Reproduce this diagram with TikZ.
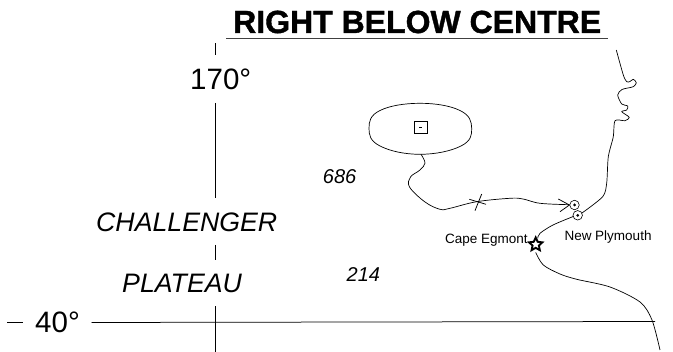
\documentclass[tikz,border=0pt]{standalone}
\usepackage{fontspec}
\setmainfont{Liberation Sans}
\newfontfamily\heavyfont[BoldFeatures={FakeBold=1.2}]{Liberation Sans}
\usetikzlibrary{shapes.geometric}
\tikzset{
 px/.style={x=1pt,y=-1pt},
 ln/.style={line width=0.75pt,black},
 coast/.style={line width=0.7pt,black,line join=round},
 big/.style={font=\fontsize{29.5}{32}\selectfont,inner sep=0pt,anchor=base west},
 region/.style={font=\fontsize{26.7}{30}\selectfont\itshape,inner sep=0pt,anchor=base west},
 depth/.style={font=\fontsize{20}{22}\selectfont\itshape,inner sep=0pt,anchor=base west},
 place/.style={font=\fontsize{13.5}{16}\selectfont,inner sep=0pt,anchor=base west},
 port/.style={circle,draw,line width=0.6pt,minimum size=9.5pt,inner sep=0pt},
 dotc/.style={circle,fill=black,minimum size=3pt,inner sep=0pt},
}
\begin{document}
\begin{tikzpicture}[px]
\useasboundingbox (0,0) rectangle (673,352);
% title
\node[font=\fontsize{32}{34}\selectfont\heavyfont\bfseries,inner sep=0pt,anchor=base west] (title) at (233,33) {RIGHT BELOW CENTRE};
\coordinate (ruleL) at (226,38.5); \coordinate (ruleR) at (608,38.5);
\draw[line width=1pt,black!75] (ruleL) -- (ruleR);
% graticule
\draw[ln] (215.7,43.5) -- (215.7,55);
\draw[ln] (215.7,103) -- (215.7,198);
\draw[ln] (215.7,245) -- (215.7,260);
\draw[ln] (215.7,306.5) -- (215.7,352);
\coordinate (hL) at (91.5,322.5); \coordinate (hR) at (655,321.5);
\draw[ln] (hL) -- (hR);
\coordinate (dL) at (7,322); \coordinate (dR) at (23,322);
\draw[ln] (dL) -- (dR);
\node[big] (d170) at (190,90) {170°};
\node[big] (d40) at (35,333) {40°};
\node[region] (chal) at (96,231.7) {CHALLENGER};
\node[region] (plat) at (122,292.7) {PLATEAU};
\node[depth] (n686) at (322.7,183.3) {686};
\node[depth] (n214) at (346.5,281.7) {214};
\node[place] (cape) at (445,244) {Cape Egmont};
\node[place] (newp) at (564.3,241) {New Plymouth};
% shallow oval
\draw[coast] plot[smooth cycle,tension=.7] coordinates {(369,128.3) (380,110.5) (420,103.3) (460,110.5) (471.7,128.3) (461,146) (420,154.3) (380,146)};
\node[draw,line width=0.6pt,minimum size=12.5pt,inner sep=0pt] (box) at (420.7,127.3) {};
\node[fill=black,minimum width=3.5pt,minimum height=1.5pt,inner sep=0pt] at (box.center) {};
% ports
\node[port] (p1) at (574.5,205) {}; \node[dotc] at (p1.center) {};
\node[port] (p2) at (577.7,215.3) {}; \node[dotc] at (p2.center) {};
% star
\node[star,star points=5,star point ratio=2.1,draw,line width=1.9pt,minimum size=14pt,inner sep=0pt] (st) at (535.7,244.5) {};
% track
\draw[coast] plot[smooth,tension=.6] coordinates {(421,154.3) (425,163) (420,170) (410.5,177) (409.5,187) (425,202) (440,209.3) (450,208.3) (476.7,201.7) (510,198.3) (523,199) (540,203.3) (569,204.7)};
\coordinate (x1) at (481.7,194); \coordinate (x2) at (475,210.7);
\coordinate (x3) at (469.3,199.3); \coordinate (x4) at (486,204.3);
\draw[ln] (x1) -- (x2); \draw[ln] (x3) -- (x4);
\coordinate (a1) at (558.3,199); \coordinate (a2) at (560,211.7);
\draw[ln] (a1) -- (p1.west) -- (a2);
% coast
\draw[coast] plot[smooth,tension=.45] coordinates {(616.3,50) (623.3,75) (626.7,81.7) (630,81.5) (633.3,79.3) (636.3,82.7) (633.3,86.7) (622,89.5) (617.7,95) (621.7,104) (627.7,106) (626.7,110) (621.7,111.7) (629.3,117.3) (625,120.7) (615,120.7) (613.3,136.7) (608.3,156.7) (606.7,183) (602.7,196.7) (582,213)};
\draw[coast] plot[smooth,tension=.5] coordinates {(573.2,216.5) (553,225) (540,233.3) (537.7,238.3)};
\draw[coast] plot[smooth,tension=.5] coordinates {(535.7,252.5) (543.3,265) (560,274) (576.7,279.3) (610,287) (640,302) (652,320) (660,350)};
\end{tikzpicture}
\end{document}
